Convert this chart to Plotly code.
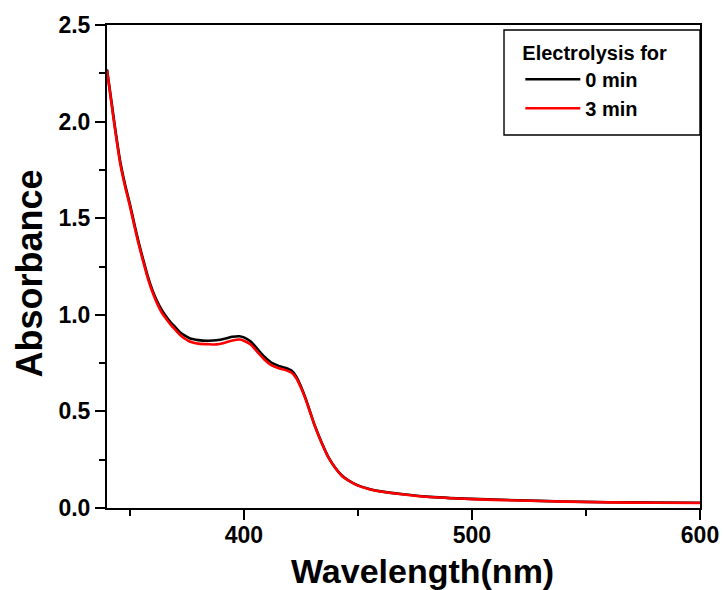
import plotly.graph_objects as go

# ---- data ----
wavelength_0 = [340, 342, 344, 346, 348, 350, 352, 354, 356, 358, 360, 362, 364, 366, 368, 370,
                372, 374, 376, 378, 380, 384, 388, 392, 395, 398, 400, 403, 406, 409, 412, 415,
                418, 421, 423, 425, 427, 429, 431, 433, 435, 437, 440, 443, 446, 450, 455, 460,
                470, 480, 500, 520, 540, 560, 580, 600]
absorb_0min = [2.27, 2.10, 1.93, 1.78, 1.67, 1.575, 1.47, 1.37, 1.28, 1.195, 1.125, 1.07, 1.025, 0.99,
               0.96, 0.935, 0.91, 0.893, 0.88, 0.873, 0.869, 0.866, 0.868, 0.877, 0.886, 0.889,
               0.883, 0.862, 0.822, 0.783, 0.753, 0.737, 0.726, 0.71, 0.68, 0.63, 0.57, 0.50,
               0.43, 0.37, 0.315, 0.265, 0.21, 0.168, 0.142, 0.117, 0.098, 0.086, 0.071, 0.059,
               0.047, 0.040, 0.034, 0.030, 0.028, 0.027]
absorb_3min = [2.265, 2.09, 1.92, 1.77, 1.66, 1.565, 1.46, 1.36, 1.27, 1.185, 1.115, 1.058, 1.012,
               0.978, 0.948, 0.922, 0.897, 0.877, 0.863, 0.855, 0.851, 0.848, 0.847, 0.857, 0.867,
               0.872, 0.866, 0.846, 0.807, 0.769, 0.740, 0.725, 0.715, 0.70, 0.672, 0.624, 0.565,
               0.497, 0.428, 0.368, 0.313, 0.263, 0.208, 0.166, 0.141, 0.116, 0.097, 0.085, 0.070,
               0.058, 0.046, 0.039, 0.033, 0.029, 0.027, 0.026]
series_names = ["0 min", "3 min"]
series_colors = ["#000000", "#ff0000"]
x_tickvals = [400, 500, 600]
y_tickvals = [0.0, 0.5, 1.0, 1.5, 2.0, 2.5]
legend_title = "Electrolysis for"
x_title = "Wavelength(nm)"
y_title = "Absorbance"

FONT = "Liberation Sans, Arial, sans-serif"

fig = go.Figure()
for name, ys, col in zip(series_names, [absorb_0min, absorb_3min], series_colors):
    fig.add_trace(go.Scatter(x=wavelength_0, y=ys, mode="lines", name=name,
                             line=dict(color=col, width=2.6, shape="spline", smoothing=0.8)))

axis_common = dict(showline=True, linecolor="black", linewidth=2, mirror=True,
                   ticks="outside", tickwidth=2, ticklen=10, tickcolor="black",
                   showgrid=False, zeroline=False, automargin=False,
                   tickfont=dict(family=FONT, size=23, color="black", weight="bold"))

fig.update_xaxes(range=[340, 600], tickvals=x_tickvals, ticklabelstandoff=-5,
                 minor=dict(ticks="outside", ticklen=6, tickwidth=2, tickcolor="black", dtick=50, tick0=350),
                 **axis_common)
fig.update_yaxes(range=[0, 2.5], tickvals=y_tickvals, tickformat=".1f",
                 minor=dict(ticks="outside", ticklen=6, tickwidth=2, tickcolor="black", dtick=0.25, tick0=0),
                 **axis_common)

fig.add_annotation(text=x_title, xref="paper", yref="paper", x=0.532, y=-0.13,
                   xanchor="center", yanchor="middle", showarrow=False,
                   font=dict(family=FONT, size=34, color="black", weight="bold"))
fig.add_annotation(text=y_title, xref="paper", yref="paper", x=-0.1315, y=0.4855,
                   xanchor="center", yanchor="middle", showarrow=False, textangle=-90,
                   font=dict(family=FONT, size=36, color="black", weight="bold"))

# legend frame
fig.add_shape(type="rect", xref="paper", yref="paper", x0=0.6695, x1=1.0, y0=0.7723, y1=0.9896,
              line=dict(color="black", width=1.4), fillcolor="white", layer="above")

fig.update_layout(
    width=723, height=590,
    margin=dict(l=107, r=23, t=25, b=82),
    plot_bgcolor="white", paper_bgcolor="white",
    showlegend=True,
    legend=dict(x=0.697, xanchor="left", y=0.982, yanchor="top",
                bgcolor="rgba(0,0,0,0)", borderwidth=0,
                title=dict(text=legend_title, font=dict(family=FONT, size=20, color="black", weight="bold")),
                font=dict(family=FONT, size=20, color="black", weight="bold"),
                itemwidth=55, tracegroupgap=0),
)

fig.write_html("out.html")
